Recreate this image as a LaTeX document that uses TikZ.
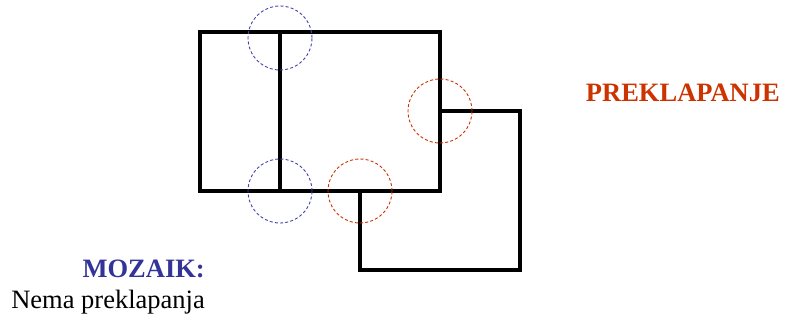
\documentclass[tikz,border=0pt]{standalone}
\usepackage{fontspec}
\setmainfont{Liberation Serif}
\definecolor{mblue}{HTML}{333399}
\definecolor{mcirc}{HTML}{4444AA}
\definecolor{morange}{HTML}{CC3300}
\begin{document}
\begin{tikzpicture}[x=1pt,y=-1pt,
  wall/.style={line width=3.5pt, line join=miter},
  bluecirc/.style={draw=mcirc, line width=0.9pt, dash pattern=on 3pt off 2.2pt},
  orcirc/.style={draw=morange, line width=0.9pt, dash pattern=on 3pt off 2.2pt},
  lbl/.style={inner sep=0pt, font=\fontsize{26.5}{29}\selectfont}]
\useasboundingbox (0,0) rectangle (787,321);
% rectangles
\coordinate (A1) at (200,32);
\coordinate (A2) at (440,191);
\coordinate (D1) at (280,32);
\coordinate (D2) at (280,191);
\coordinate (B1) at (360,111);
\coordinate (B2) at (520,270);
\draw[wall] (A1) rectangle (A2);
\draw[wall] (D1) -- (D2);
\draw[wall] (440,111) -- (520,111) -- (520,270) -- (360,270) -- (360,191);
% circles
\node[bluecirc, circle, minimum size=64pt, inner sep=0pt] (c1) at (280,38) {};
\node[bluecirc, circle, minimum size=64pt, inner sep=0pt] (c2) at (280,191) {};
\node[orcirc, circle, minimum size=64pt, inner sep=0pt] (c3) at (440,111) {};
\node[orcirc, circle, minimum size=64pt, inner sep=0pt] (c4) at (360,191) {};
% labels
\node[lbl, anchor=base east, text=morange] (pk) at (780,101.5) {\bfseries PREKLAPANJE};
\node[lbl, anchor=base east, text=mblue] (mz) at (205,277) {\bfseries MOZAIK:};
\node[lbl, anchor=base east] (nm) at (205,308) {Nema preklapanja};
\end{tikzpicture}
\end{document}
